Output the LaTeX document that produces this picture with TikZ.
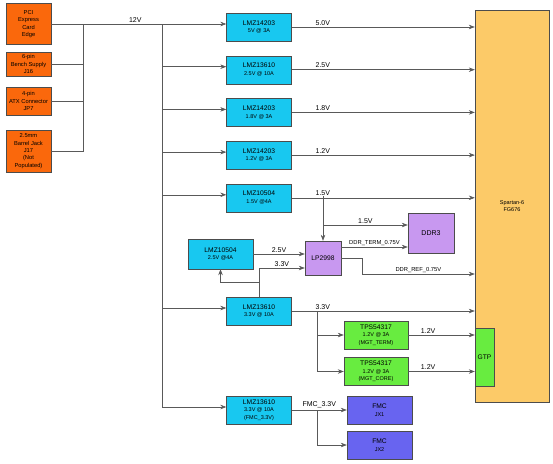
\documentclass[tikz,border=0pt]{standalone}
\usepackage{fontspec}
\setmainfont{Liberation Sans}
\usetikzlibrary{arrows.meta,positioning}

\definecolor{srcorange}{RGB}{250,104,12}
\definecolor{regcyan}{RGB}{24,200,240}
\definecolor{ddrpurple}{RGB}{200,152,240}
\definecolor{tpsgreen}{RGB}{104,236,64}
\definecolor{fmcblue}{RGB}{104,100,240}
\definecolor{fpgaorange}{RGB}{252,202,104}

\newcommand{\rating}[1]{{\fontsize{5.5}{7}\selectfont #1}}

\begin{document}
\begin{tikzpicture}[x=1pt,y=-1pt,>={Stealth[length=6pt,width=4.5pt]},
    box/.style={draw=black!70, line width=0.4pt, inner sep=0pt, align=center, minimum width=65pt, minimum height=28pt, font=\fontsize{6.7}{7.6}\selectfont},
    source/.style={box, fill=srcorange, minimum width=45pt, font=\fontsize{5.75}{7.3}\selectfont},
    reg/.style={box, fill=regcyan},
    ddr/.style={box, fill=ddrpurple},
    tps/.style={box, fill=tpsgreen},
    fmc/.style={box, fill=fmcblue},
    wire/.style={draw=black!65, line width=0.6pt},
    lbl/.style={font=\fontsize{7}{8}\selectfont, inner sep=1.5pt},
    node distance=14.3pt]
    \useasboundingbox (0,0) rectangle (553,463);

    % power inputs
    \node[source, minimum height=41pt] (pci) at (28.5,24) {PCI\\Express\\Card\\Edge};
    \node[source, minimum height=24pt] (bench) at (28.5,64) {6-pin\\Bench Supply\\J16};
    \node[source, minimum height=28pt] (atx) at (28.5,101) {4-pin\\ATX Connector\\JP7};
    \node[source, minimum height=42pt] (jack) at (28.5,151) {2.5mm\\Barrel Jack\\J17\\(Not\\Populated)};

    % regulators
    \node[reg] (r50) at (259,27) {LMZ14203\\\rating{5V @ 3A}};
    \node[reg, below=of r50] (r25) {LMZ13610\\\rating{2.5V @ 10A}};
    \node[reg, below=of r25] (r18) {LMZ14203\\\rating{1.8V @ 3A}};
    \node[reg, below=of r18] (r12) {LMZ14203\\\rating{1.2V @ 3A}};
    \node[reg, below=of r12] (r15) {LMZ10504\\\rating{1.5V @4A}};
    \node[reg, minimum height=30pt] (r25b) at (220.5,254) {LMZ10504\\\rating{2.5V @4A}};
    \node[reg] (r33) at (259,311) {LMZ13610\\\rating{3.3V @ 10A}};
    \node[reg] (rfmc) at (259,410) {LMZ13610\\\rating{3.3V @ 10A}\\\rating{(FMC\_3.3V)}};

    \node[ddr, minimum width=36pt, minimum height=34pt] (lp) at (323,258) {LP2998};
    \node[ddr, minimum width=46pt, minimum height=40pt, font=\fontsize{7}{8}\selectfont] (ddr3) at (431,233) {DDR3};
    \node[tps, minimum width=64pt] (tpsa) at (376,335) {TPS54317\\\rating{1.2V @ 3A}\\\rating{(MGT\_TERM)}};
    \node[tps, minimum width=64pt] (tpsb) at (376,371.5) {TPS54317\\\rating{1.2V @ 3A}\\\rating{(MGT\_CORE)}};
    \node[fmc] (jx1) at (379.5,410) {FMC\\\rating{JX1}};
    \node[fmc] (jx2) at (379.5,445) {FMC\\\rating{JX2}};

    % FPGA
    \node[box, fill=fpgaorange, minimum width=74pt, minimum height=392pt, font=\fontsize{5.5}{6.6}\selectfont] (fpga) at (512,206) {Spartan-6\\FG676};
    \node[tps, minimum width=19pt, minimum height=58pt] (gtp) at (484.5,357) {GTP};

    % 12V input bus
    \coordinate (srcbus) at (83,24);
    \coordinate (bus12) at (162,24);
    \draw[wire] (srcbus) |- (jack.east);
    \draw[wire] (bench.east) -- (bench.east -| srcbus);
    \draw[wire] (atx.east) -- (atx.east -| srcbus);
    \draw[wire,->] (pci.east) -- node[lbl, pos=0.48, above] {12V} (pci.east -| r50.west);
    \draw[wire] (bus12) -- ([yshift=3pt]rfmc.west -| bus12);
    \foreach \r in {r25,r18,r12,r15,r33,rfmc}
        \draw[wire,->] ([yshift=3pt]\r.west -| bus12) -- ([yshift=3pt]\r.west);

    % rails to the FPGA
    \foreach \r/\v in {r50/5.0V,r25/2.5V,r18/1.8V,r12/1.2V,r15/1.5V,r33/3.3V}
        \draw[wire,->] (\r.east) -- node[lbl, pos=0.17, above] {\v} (\r.east -| fpga.west);

    % DDR3 supply
    \coordinate (tap15) at (323,196);
    \coordinate (tapddr) at (323,225);
    \coordinate (refbend) at (362,274);
    \draw[wire,->] (tap15) -- (lp.north);
    \draw[wire,->] (tapddr) -- node[lbl, above] {1.5V} (tapddr -| ddr3.west);
    \draw[wire,->] (r25b.east) -- node[lbl, above] {2.5V} (r25b.east -| lp.west);
    \draw[wire,->] (r33.north) |- node[lbl, pos=0.75, above] {3.3V} ([yshift=-10pt]lp.west);
    \coordinate (fb) at (259,282);
    \draw[wire,->] (fb) -| (r25b.south);
    \draw[wire,->] ([yshift=11pt]lp.east) -- node[lbl, above, font=\fontsize{5.8}{7}\selectfont] {DDR\_TERM\_0.75V} ([yshift=11pt]lp.east -| ddr3.west);
    \draw[wire,->] (lp.east) -| (refbend) -- node[lbl, above, font=\fontsize{5.8}{7}\selectfont] {DDR\_REF\_0.75V} (refbend -| fpga.west);

    % GTP supply
    \coordinate (tap33) at (317,311);
    \draw[wire,->] (tap33) |- (tpsa.west);
    \draw[wire,->] (tap33) |- (tpsb.west);
    \draw[wire,->] (tpsa.east) -- node[lbl, pos=0.3, above] {1.2V} (tpsa.east -| gtp.west);
    \draw[wire,->] (tpsb.east) -- node[lbl, pos=0.3, above] {1.2V} (tpsb.east -| gtp.west);

    % FMC supply
    \coordinate (tapfmc) at (317,410);
    \draw[wire,->] (rfmc.east) -- node[lbl, above] {FMC\_3.3V} (jx1.west);
    \draw[wire,->] (tapfmc) |- (jx2.west);
\end{tikzpicture}
\end{document}
